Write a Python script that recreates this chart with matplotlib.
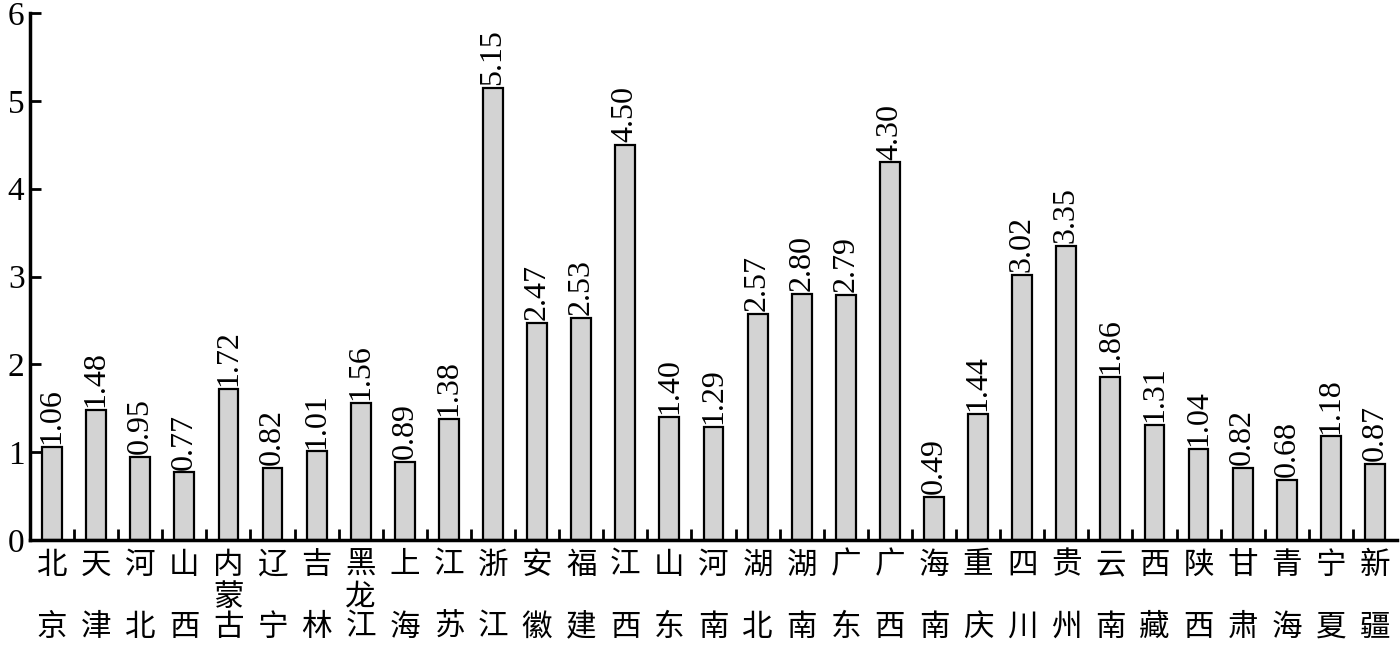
import matplotlib
matplotlib.use("Agg")
import matplotlib.pyplot as plt
from matplotlib.transforms import blended_transform_factory

provinces = ["北京", "天津", "河北", "山西", "内蒙古", "辽宁", "吉林", "黑龙江", "上海", "江苏",
             "浙江", "安徽", "福建", "江西", "山东", "河南", "湖北", "湖南", "广东", "广西",
             "海南", "重庆", "四川", "贵州", "云南", "西藏", "陕西", "甘肃", "青海", "宁夏", "新疆"]
values = [1.06, 1.48, 0.95, 0.77, 1.72, 0.82, 1.01, 1.56, 0.89, 1.38,
          5.15, 2.47, 2.53, 4.50, 1.40, 1.29, 2.57, 2.80, 2.79, 4.30,
          0.49, 1.44, 3.02, 3.35, 1.86, 1.31, 1.04, 0.82, 0.68, 1.18, 0.87]
yticks = [0, 1, 2, 3, 4, 5, 6]

serif = ["Liberation Serif", "DejaVu Serif"]
cjk = ["Noto Sans CJK SC", "DejaVu Sans"]

fig = plt.figure(figsize=(14, 6.54), dpi=100)
ax = fig.add_axes([30/1400, 1 - 540/654, (1397-30)/1400, (540-13)/654])

x = list(range(len(provinces)))
ax.bar(x, values, width=0.45, color="#d3d3d3", edgecolor="black", linewidth=1.6, zorder=2)

for xi, v in zip(x, values):
    ax.annotate(f"{v:.2f}", (xi, v), xytext=(0, 2), textcoords="offset points",
                rotation=90, ha="center", va="bottom", fontsize=23, family=serif)

ax.set_xlim(-0.5, len(provinces) - 0.5)
ax.set_ylim(0, 6)
ax.set_yticks(yticks)
ax.set_yticklabels([str(t) for t in yticks], family=serif, fontsize=24)
ax.set_xticks(x)
ax.set_xticklabels([""] * len(x))
ax.set_xticks([i + 0.5 for i in range(len(x) - 1)], minor=True)
ax.tick_params(axis="x", which="major", length=0)
ax.tick_params(axis="x", which="minor", direction="in", length=8, width=2)
ax.tick_params(axis="y", direction="in", length=8, width=2, pad=4)

for s in ["top", "right"]:
    ax.spines[s].set_visible(False)
for s in ["left", "bottom"]:
    ax.spines[s].set_linewidth(2.5)

trans = blended_transform_factory(ax.transData, fig.transFigure)
top_y = 1 - 565/654
bot_y = 1 - 627/654
mid_y = 1 - 597/654
for xi, name in zip(x, provinces):
    chars = list(name)
    ax.text(xi, top_y, chars[0], transform=trans, ha="center", va="center",
            fontsize=22, family=cjk)
    ax.text(xi, bot_y, chars[-1], transform=trans, ha="center", va="center",
            fontsize=22, family=cjk)
    if len(chars) == 3:
        ax.text(xi, mid_y, chars[1], transform=trans, ha="center", va="center",
                fontsize=22, family=cjk)

fig.savefig("out.png", dpi=100)
